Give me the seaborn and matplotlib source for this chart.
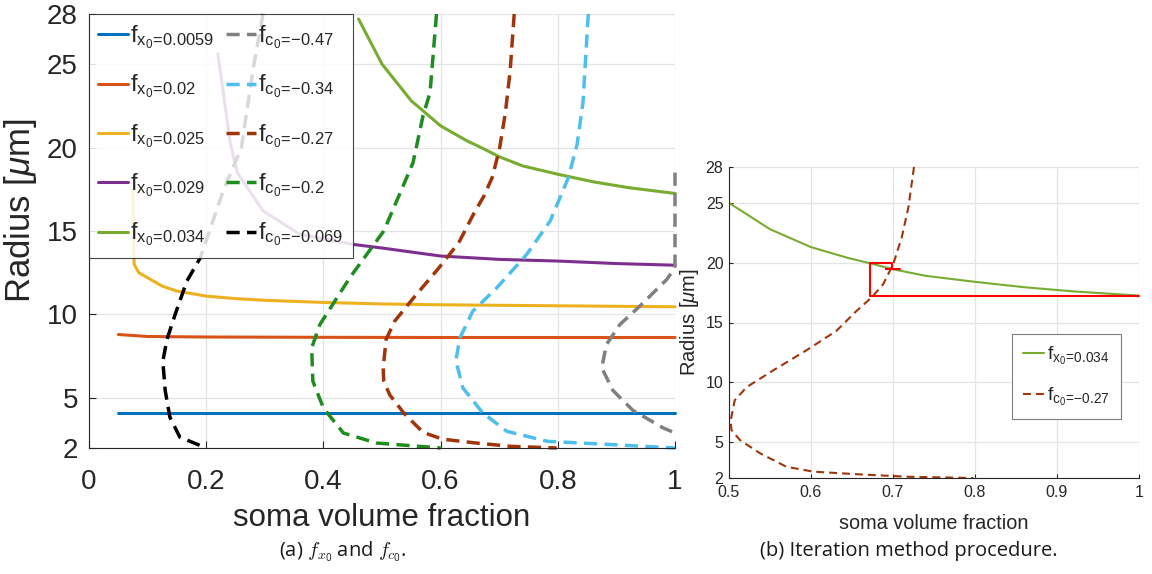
import matplotlib
matplotlib.use('Agg')
import matplotlib.pyplot as plt
import seaborn as sns

# ---------------- data ----------------
# solid curves f_x0 : (soma volume fraction, radius)
fx_labels = ['0.0059', '0.02', '0.025', '0.029', '0.034']
fx_colors = ['#0072BD', '#D95319', '#EDB120', '#7E2F8E', '#77AC30']

fx1_x = [0.05, 0.1, 0.2, 0.4, 0.6, 0.8, 1.0]
fx1_r = [4.08, 4.08, 4.08, 4.08, 4.08, 4.08, 4.08]

fx2_x = [0.05, 0.1, 0.2, 0.4, 0.6, 0.8, 1.0]
fx2_r = [8.8, 8.68, 8.65, 8.63, 8.62, 8.62, 8.62]

fx3_x = [0.075, 0.077, 0.085, 0.1, 0.125, 0.15, 0.2, 0.25, 0.3, 0.4, 0.5, 0.6, 0.7, 0.8, 0.9, 1.0]
fx3_r = [17.5, 13.0, 12.5, 12.2, 11.7, 11.4, 11.1, 10.95, 10.85, 10.72, 10.63, 10.58, 10.55, 10.52, 10.49, 10.46]

fx4_x = [0.22, 0.241, 0.253, 0.297, 0.36, 0.45, 0.5, 0.6, 0.7, 0.8, 0.9, 1.0]
fx4_r = [25.6, 20.3, 18.5, 16.2, 14.8, 14.2, 13.98, 13.5, 13.3, 13.2, 13.05, 12.95]

fx5_x = [0.46, 0.5, 0.525, 0.55, 0.6, 0.645, 0.672, 0.7, 0.74, 0.8, 0.86, 0.92, 1.0]
fx5_r = [27.7, 25.0, 23.9, 22.8, 21.3, 20.4, 19.95, 19.45, 18.9, 18.4, 17.95, 17.6, 17.25]

# dashed curves f_c0
fc_labels = ['-0.47', '-0.34', '-0.27', '-0.2', '-0.069']
fc_colors = ['#808080', '#4DBEEE', '#A0350A', '#1E8C1E', '#000000']

fc1_x = [1.0, 1.0, 0.986, 0.94, 0.906, 0.883, 0.875, 0.894, 0.928, 0.98, 1.0]
fc1_r = [18.5, 12.8, 12.1, 10.5, 9.4, 8.2, 6.8, 5.45, 4.26, 3.2, 2.9]

fc2_x = [0.852, 0.843, 0.833, 0.818, 0.787, 0.747, 0.696, 0.655, 0.633, 0.626, 0.638, 0.672, 0.713, 0.782, 0.894, 1.0]
fc2_r = [28.0, 22.7, 20.2, 18.2, 15.6, 13.6, 11.6, 10.2, 8.6, 7.24, 5.6, 4.1, 3.0, 2.4, 2.2, 2.0]

fc3_x = [0.7256, 0.7187, 0.7106, 0.7004, 0.688, 0.674, 0.656, 0.631, 0.595, 0.554, 0.5216, 0.507, 0.502, 0.503, 0.5134, 0.538, 0.57, 0.603, 0.66, 0.72, 0.798]
fc3_r = [28.0, 24.6, 22.1, 19.9, 18.2, 17.1, 16.0, 14.3, 12.7, 11.0, 9.6, 8.5, 6.8, 6.0, 5.17, 4.06, 2.94, 2.53, 2.3, 2.1, 2.0]

fc4_x = [0.593, 0.582, 0.57, 0.553, 0.53, 0.503, 0.445, 0.394, 0.38, 0.382, 0.4, 0.434, 0.49, 0.6]
fc4_r = [28.0, 23.3, 21.9, 19.1, 17.2, 15.0, 12.2, 9.4, 8.0, 6.0, 4.4, 2.9, 2.3, 2.0]

fc5_x = [0.297, 0.28, 0.26, 0.229, 0.19, 0.167, 0.147, 0.133, 0.126, 0.13, 0.138, 0.155, 0.2]
fc5_r = [28.0, 24.7, 20.0, 17.4, 13.4, 12.0, 10.0, 8.5, 7.2, 5.45, 3.85, 2.65, 2.0]

# iteration path (panel b)
iter_x = [1.0, 0.672, 0.672, 0.699, 0.699, 0.692, 0.708]
iter_r = [17.25, 17.25, 19.95, 19.95, 19.5, 19.5, 19.5]

y_ticks = [2, 5, 10, 15, 20, 25, 28]
x_ticks_a = [0, 0.2, 0.4, 0.6, 0.8, 1.0]
x_ticklabels_a = ['0', '0.2', '0.4', '0.6', '0.8', '1']
x_ticks_b = [0.5, 0.6, 0.7, 0.8, 0.9, 1.0]
x_ticklabels_b = ['0.5', '0.6', '0.7', '0.8', '0.9', '1']

# ---------------- style ----------------
sns.set_theme(style='whitegrid')
plt.rcParams['font.family'] = ['Liberation Sans', 'DejaVu Sans']
plt.rcParams['mathtext.fontset'] = 'custom'
plt.rcParams['mathtext.rm'] = 'Liberation Sans'
plt.rcParams['mathtext.it'] = 'Liberation Sans:italic'
plt.rcParams['mathtext.default'] = 'regular'
TXT = '#262626'

fig = plt.figure(figsize=(11.52, 5.74), dpi=100)
ax1 = fig.add_axes([89 / 1152, 1 - 448 / 574, 586 / 1152, 434 / 574])
ax2 = fig.add_axes([729 / 1152, 1 - 478 / 574, 410 / 1152, 311 / 574])


def style(ax, fs, ticklen, pad):
    ax.set_facecolor('white')
    ax.grid(True, color='#e4e4e4', lw=0.9)
    ax.set_axisbelow(True)
    for s in ['top', 'right']:
        ax.spines[s].set_visible(False)
    for s in ['left', 'bottom']:
        ax.spines[s].set_visible(True)
        ax.spines[s].set_color(TXT)
        ax.spines[s].set_linewidth(0.8)
    ax.tick_params(axis='both', direction='in', length=ticklen, width=0.8,
                   colors=TXT, labelsize=fs, left=True, bottom=True, pad=pad)


def legend_label(var, v):
    # MATLAB-like "f_{x_0}=value": value sits on the subscript baseline, no extra spacing
    if v.startswith('-'):
        num = r'{-}' + v[1:]
    else:
        num = v
    return r'f$_{' + var + r'_0\!=\!' + num + '}$'


# ---------------- panel (a) ----------------
fx_x = [fx1_x, fx2_x, fx3_x, fx4_x, fx5_x]
fx_r = [fx1_r, fx2_r, fx3_r, fx4_r, fx5_r]
fc_x = [fc1_x, fc2_x, fc3_x, fc4_x, fc5_x]
fc_r = [fc1_r, fc2_r, fc3_r, fc4_r, fc5_r]

for xs, rs, c, lab in zip(fx_x, fx_r, fx_colors, fx_labels):
    sns.lineplot(x=xs, y=rs, ax=ax1, sort=False, estimator=None, color=c, lw=2.2,
                 label=legend_label('x', lab), clip_on=False)
for xs, rs, c, lab in zip(fc_x, fc_r, fc_colors, fc_labels):
    sns.lineplot(x=xs, y=rs, ax=ax1, sort=False, estimator=None, color=c, lw=2.5,
                 linestyle=(0, (3.8, 2.1)), label=legend_label('c', lab), clip_on=False)

style(ax1, 20, 5, 8)
ax1.tick_params(axis='x', pad=15)
ax1.set_xlim(0, 1)
ax1.set_ylim(2, 28)
ax1.set_xticks(x_ticks_a)
ax1.set_xticklabels(x_ticklabels_a)
ax1.set_yticks(y_ticks)
ax1.set_yticklabels([str(t) for t in y_ticks])
ax1.set_xlabel('soma volume fraction', fontsize=22.5, color=TXT)
ax1.set_ylabel(r'Radius [$\mathit{\mu}$m]', fontsize=25, color=TXT)
ax1.xaxis.set_label_coords(0.5, -0.127)
ax1.yaxis.set_label_coords(-0.086, 0.548)

h, l = ax1.get_legend_handles_labels()
leg1 = ax1.legend(h, l, ncol=2, loc='upper left', bbox_to_anchor=(0, 1), borderaxespad=0,
                  fontsize=17, frameon=True, fancybox=False, framealpha=0.85,
                  edgecolor=TXT, handlelength=1.25, handletextpad=0.1,
                  columnspacing=0.5, labelspacing=0.92, borderpad=0.4)
leg1.get_frame().set_linewidth(0.8)

# ---------------- panel (b) ----------------
sns.lineplot(x=fx5_x, y=fx5_r, ax=ax2, sort=False, estimator=None, color=fx_colors[4], lw=1.5,
             label=legend_label('x', fx_labels[4]))
sns.lineplot(x=fc3_x, y=fc3_r, ax=ax2, sort=False, estimator=None, color=fc_colors[2], lw=1.5,
             linestyle=(0, (3.8, 2.4)), label=legend_label('c', fc_labels[2]), clip_on=False)
sns.lineplot(x=iter_x, y=iter_r, ax=ax2, sort=False, estimator=None, color='#FF0000', lw=1.5,
             clip_on=False, legend=False)

style(ax2, 11.5, 3, 4)
ax2.tick_params(axis='x', pad=5)
ax2.set_xlim(0.5, 1)
ax2.set_ylim(2, 28)
ax2.set_xticks(x_ticks_b)
ax2.set_xticklabels(x_ticklabels_b)
ax2.set_yticks(y_ticks)
ax2.set_yticklabels([str(t) for t in y_ticks])
ax2.set_xlabel('soma volume fraction', fontsize=14.3, color=TXT)
ax2.set_ylabel(r'Radius [$\mathit{\mu}$m]', fontsize=14.5, color=TXT)
ax2.xaxis.set_label_coords(0.5, -0.115)
ax2.yaxis.set_label_coords(-0.068, 0.5)

h2, l2 = ax2.get_legend_handles_labels()
leg2 = ax2.legend(h2[:2], l2[:2], loc='lower right', bbox_to_anchor=(0.956, 0.19), borderaxespad=0,
                  fontsize=14, frameon=True, fancybox=False, framealpha=1,
                  edgecolor='#7f7f7f', handlelength=1.1, handletextpad=0.15,
                  labelspacing=1.0, borderpad=0.55)
leg2.get_frame().set_linewidth(0.8)

# ---------------- captions ----------------
fig.text(343 / 1152, 1 - 552 / 574, r'(a) $\mathit{f}_{\mathit{x}_0}$ and $\mathit{f}_{\mathit{c}_0}$.',
         ha='center', va='center', fontsize=14.5, family=['Open Sans', 'DejaVu Sans'],
         math_fontfamily='cm', color='#1a1a1a')
fig.text(909 / 1152, 1 - 551 / 574, '(b) Iteration method procedure.',
         ha='center', va='center', fontsize=14.5, family=['Open Sans', 'DejaVu Sans'], color='#1a1a1a')

fig.savefig('out.png', dpi=100)
